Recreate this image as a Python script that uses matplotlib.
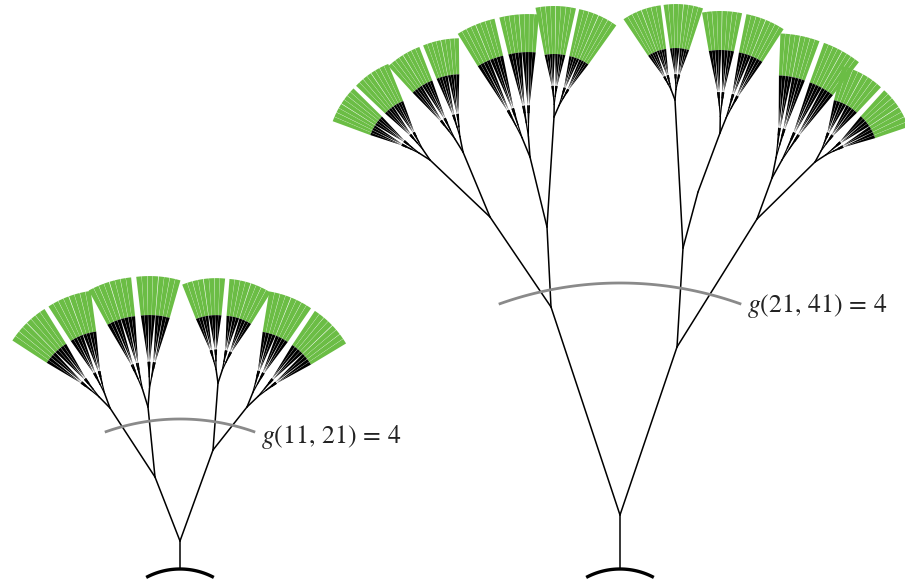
import numpy as np
import matplotlib
matplotlib.use("Agg")
import matplotlib.pyplot as plt
from matplotlib.patches import Polygon

plt.rcParams["mathtext.fontset"] = "stix"

W, H = 905, 581
GREEN = "#6bbd45"
GREY = "#8a8a8a"

# ---- small tree (pixel coordinates, y grows downward) ----
small_x = [180, 180, 155, 213, 110, 148, 218, 247]
small_y = [569, 541, 477, 450, 408, 407, 383, 407]
small_parent = [-1, 0, 1, 1, 2, 2, 3, 3]
# crowns: apex node, left / right edge angle (deg), leaf start radius, outer radius
small_crown_node = [4, 5, 6, 7]
small_crown_left = [145.0, 116.6, 109.8, 78.8]
small_crown_right = [99.7, 76.0, 60.0, 33.0]
small_crown_green = [78, 92, 68, 77]
small_crown_outer = [119, 131, 105, 118]
small_center = (180, 641)
small_level_radius = 222
small_label = r"$g(11,\,21)\,=\,4$"
small_label_xy = (261, 437)

# ---- large tree ----
big_x = [620, 620, 551, 677, 490, 547, 683, 757, 430, 463, 530, 554, 675, 698, 720, 772, 815]
big_y = [569, 515, 307, 347, 217, 227, 248, 219, 160, 152, 157, 117, 100, 192, 133, 178, 162]
big_parent = [-1, 0, 1, 1, 2, 2, 3, 3, 4, 4, 5, 5, 6, 6, 13, 7, 7]
big_crown_node = [8, 9, 10, 11, 12, 14, 15, 16]
big_crown_left = [157.8, 130.5, 119.8, 99.0, 122.0, 98.0, 86.0, 73.9]
big_crown_right = [114.0, 92.6, 87.0, 56.4, 73.5, 59.0, 53.8, 20.7]
big_crown_green = [65, 78, 105, 63, 52, 83, 103, 65]
big_crown_outer = [105, 114, 143, 111, 96, 122, 145, 100]
big_center = (620, 641)
big_level_radius = 358
big_label = r"$g(21,\,41)\,=\,4$"
big_label_xy = (747, 306)

base_radius = 72
LW = 1.1


def polar(p, ang, r):
    a = np.radians(ang)
    return (p[0] + r * np.cos(a), p[1] - r * np.sin(a))


def arc_pts(c, r, a0, a1, n=40):
    t = np.radians(np.linspace(a0, a1, n))
    return c[0] + r * np.cos(t), c[1] - r * np.sin(t)


def leaf(ax, p, s, lo, hi, rg, ro):
    """Branch tip: black wedge from p to the ring around s, green beyond."""
    gx, gy = arc_pts(s, rg, lo, hi, 6)
    ox, oy = arc_pts(s, ro, hi, lo, 6)
    ax.add_patch(Polygon(np.column_stack([[p[0], *gx], [p[1], *gy]]),
                         closed=True, fc="black", ec="none", lw=0, zorder=3))
    ax.add_patch(Polygon(np.column_stack([np.r_[gx, ox], np.r_[gy, oy]]),
                         closed=True, fc=GREEN, ec="none", lw=0, zorder=2))


def branch(ax, p, s, lo, hi, rg, ro, steps):
    if not steps:
        pad = 0.01 * (hi - lo)
        leaf(ax, p, s, lo + pad, hi - pad, rg, ro)
        return
    mid = 0.5 * (lo + hi)
    gap = 0.006 * (hi - lo)
    for a, b in ((mid + gap, hi), (lo, mid - gap)):
        c = polar(p, 0.5 * (a + b), steps[0])
        ax.plot([p[0], c[0]], [p[1], c[1]], color="black", lw=LW * 0.8,
                solid_capstyle="round", zorder=3)
        branch(ax, c, s, a, b, rg, ro, steps[1:])


def crown(ax, apex, left, right, rg, ro):
    mid = 0.5 * (left + right)
    gap = -0.012 * (left - right)
    d1 = 0.2 * rg
    for a, b in ((mid + gap, left + 2), (right - 2, mid - gap)):
        s = polar(apex, 0.5 * (a + b), d1)
        ax.plot([apex[0], s[0]], [apex[1], s[1]], color="black", lw=LW,
                solid_capstyle="round", zorder=3)
        rgs, ros = rg - d1, ro - d1
        branch(ax, s, s, a, b, rgs, ros, [0.16 * rgs, 0.12 * rgs, 0.08 * rgs])


def tree(ax, xs, ys, parent, cn, cl, cr, cg, co, center, lev_r, label, label_xy):
    for i, p in enumerate(parent):
        if p >= 0:
            ax.plot([xs[p], xs[i]], [ys[p], ys[i]], color="black", lw=LW,
                    solid_capstyle="round", zorder=3)
    for n, l, r, g, o in zip(cn, cl, cr, cg, co):
        crown(ax, (xs[n], ys[n]), l, r, g, o)
    bx, by = arc_pts(center, base_radius, 62, 118)
    ax.plot(bx, by, color="black", lw=2.4, solid_capstyle="butt", zorder=4)
    gx, gy = arc_pts(center, lev_r, 70.2, 109.8, 80)
    ax.plot(gx, gy, color=GREY, lw=2.0, solid_capstyle="butt", zorder=5)
    ax.text(label_xy[0], label_xy[1], label, fontsize=18.5, ha="left",
            va="center", color="#222222", zorder=6)


fig = plt.figure(figsize=(W / 100, H / 100), dpi=100)
ax = fig.add_axes([0, 0, 1, 1])
ax.set_xlim(0, W)
ax.set_ylim(H, 0)
ax.axis("off")

tree(ax, small_x, small_y, small_parent, small_crown_node, small_crown_left,
     small_crown_right, small_crown_green, small_crown_outer, small_center,
     small_level_radius, small_label, small_label_xy)
tree(ax, big_x, big_y, big_parent, big_crown_node, big_crown_left,
     big_crown_right, big_crown_green, big_crown_outer, big_center,
     big_level_radius, big_label, big_label_xy)

fig.savefig("out.png", dpi=100)
